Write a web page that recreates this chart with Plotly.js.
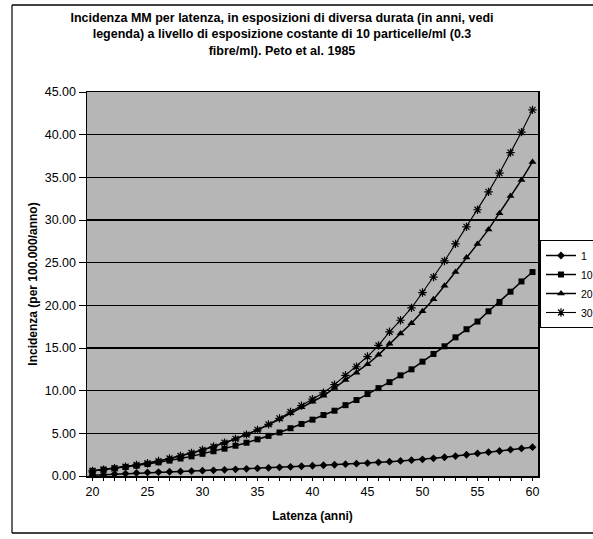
<!DOCTYPE html>
<html>
<head>
<meta charset="utf-8">
<script src="https://cdn.plot.ly/plotly-3.0.1.min.js"></script>
<style>
html,body{margin:0;padding:0;background:#fff;}
#chart{width:593px;height:539px;}
</style>
</head>
<body>
<div id="chart"></div>
<script>
// Latenza (anni)
var years = [20,21,22,23,24,25,26,27,28,29,30,31,32,33,34,35,36,37,38,39,40,
             41,42,43,44,45,46,47,48,49,50,51,52,53,54,55,56,57,58,59,60];
var xTickLabels = ['20','25','30','35','40','45','50','55','60'];

// Incidenza (per 100.000/anno) per durata di esposizione (anni)
var dur1  = [0.10,0.15,0.22,0.28,0.35,0.42,0.46,0.50,0.54,0.58,
             0.62,0.67,0.72,0.78,0.84,0.90,0.96,1.02,1.08,1.14,
             1.20,1.26,1.32,1.38,1.44,1.52,1.60,1.68,1.77,1.86,
             1.95,2.07,2.20,2.34,2.49,2.65,2.79,2.93,3.08,3.23,3.38];
var dur10 = [0.60,0.75,0.90,1.05,1.20,1.40,1.60,1.80,2.05,2.30,
             2.60,2.90,3.20,3.55,3.90,4.30,4.70,5.10,5.60,6.10,
             6.60,7.15,7.65,8.30,8.90,9.60,10.30,11.00,11.80,12.50,
             13.40,14.30,15.20,16.25,17.20,18.10,19.30,20.40,21.60,22.80,23.90];
var dur20 = [0.60,0.75,0.90,1.10,1.30,1.50,1.75,2.05,2.35,2.70,
             3.05,3.45,3.90,4.35,4.85,5.40,6.00,6.65,7.35,8.05,
             8.70,9.40,10.30,11.25,12.10,13.10,14.20,15.50,16.70,17.90,
             19.30,20.70,22.30,23.90,25.60,27.20,28.90,30.80,32.80,34.70,36.80];
var dur30 = [0.60,0.75,0.90,1.10,1.30,1.50,1.75,2.05,2.35,2.70,
             3.05,3.45,3.90,4.35,4.85,5.40,6.05,6.75,7.50,8.25,
             9.00,9.75,10.70,11.80,12.80,14.00,15.30,16.90,18.25,19.70,
             21.50,23.30,25.20,27.20,29.20,31.20,33.30,35.50,37.90,40.30,42.90];
var seriesNames = ['1','10','20','30'];

var tickText = years.map(function(y){
  var s = String(y);
  return xTickLabels.indexOf(s) >= 0 ? s : '';
});

var FONT = 'Liberation Sans, Arial, sans-serif';
function tr(name, vals, symbol, size, lw, open){
  var m = {symbol: symbol, size: size, color: 'black'};
  if (open) m.line = {color: 'black', width: 1.2};
  return {x: years, y: vals, name: name, type: 'scatter', mode: 'lines+markers',
          line: {color: 'black', width: lw}, marker: m};
}
var data = [
  tr(seriesNames[0], dur1, 'diamond', 6, 1.5, false),
  tr(seriesNames[1], dur10, 'square', 6, 1.5, false),
  tr(seriesNames[2], dur20, 'triangle-up', 7, 1.5, false),
  tr(seriesNames[3], dur30, 'asterisk-open', 7, 1.1, true)
];

var layout = {
  width: 593, height: 539,
  margin: {l: 87, r: 55, t: 92, b: 63, autoexpand: false},
  paper_bgcolor: '#ffffff',
  plot_bgcolor: '#b6b6b6',
  font: {family: FONT, color: '#000', size: 12},
  showlegend: true,
  title: {
    text: '<b>Incidenza MM per latenza, in esposizioni di diversa durata (in anni, vedi<br>legenda) a livello di esposizione costante di 10 particelle/ml (0.3<br>fibre/ml). Peto et al. 1985</b>',
    font: {family: FONT, size: 12.5, color: '#000'},
    x: 282/593, xref: 'container', xanchor: 'center',
    y: 1 - 22/539, yref: 'container', yanchor: 'top'
  },
  xaxis: {
    range: [19.5, 60.5],
    tickmode: 'array', tickvals: years, ticktext: tickText,
    ticks: 'outside', ticklen: 3, tickcolor: '#000', tickwidth: 1,
    showgrid: false, zeroline: false,
    showline: true, linecolor: '#000', linewidth: 1.5, mirror: true,
    tickfont: {family: FONT, size: 12.5, color: '#000'},
    title: {text: '<b>Latenza (anni)</b>', font: {family: FONT, size: 12, color: '#000'}, standoff: 14}
  },
  yaxis: {
    range: [0, 45], tickmode: 'linear', tick0: 0, dtick: 5, tickformat: '.2f',
    ticks: 'outside', ticklen: 7, tickcolor: '#000', tickwidth: 1,
    showgrid: true, gridcolor: '#000', gridwidth: 1.3, zeroline: false,
    showline: true, linecolor: '#000', linewidth: 1.5, mirror: true,
    tickfont: {family: FONT, size: 12.5, color: '#000'},
    title: {text: '<b>Incidenza (per 100.000/anno)</b>', font: {family: FONT, size: 12, color: '#000'}, standoff: 4}
  },
  legend: {
    x: (540-87)/451, xanchor: 'left', y: (476-240)/384, yanchor: 'top',
    bgcolor: '#ffffff', bordercolor: '#000', borderwidth: 1,
    font: {family: FONT, size: 10.5, color: '#000'},
    tracegroupgap: 0, itemwidth: 30
  },
  shapes: [
    {type: 'line', xref: 'paper', yref: 'paper', x0: (12-87)/451, x1: (12-87)/451,
     y0: (476-533)/384, y1: (476-5)/384, line: {color: '#000', width: 1.2}},
    {type: 'line', xref: 'paper', yref: 'paper', x0: (12-87)/451, x1: (600-87)/451,
     y0: (476-5)/384, y1: (476-5)/384, line: {color: '#000', width: 1.5}},
    {type: 'line', xref: 'paper', yref: 'paper', x0: (12-87)/451, x1: (600-87)/451,
     y0: (476-533)/384, y1: (476-533)/384, line: {color: '#000', width: 1.5}}
  ]
};

Plotly.newPlot('chart', data, layout, {staticPlot: true, displayModeBar: false});
</script>
</body>
</html>
